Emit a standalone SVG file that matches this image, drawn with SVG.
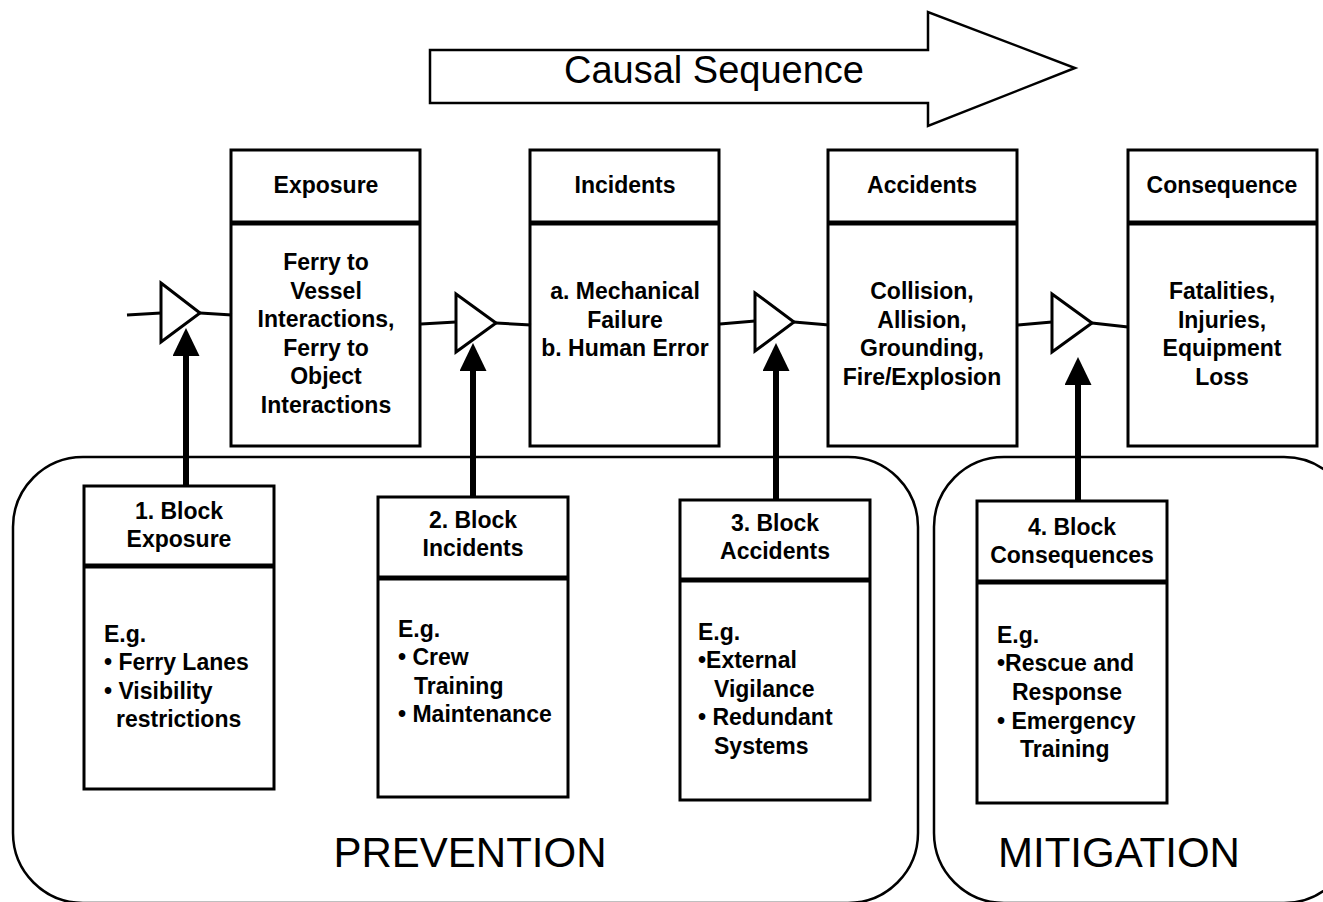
<svg xmlns="http://www.w3.org/2000/svg" width="1323" height="902" viewBox="0 0 1323 902">
<style>
.box{fill:#fff;stroke:#000;stroke-width:3}
.div{stroke:#000;stroke-width:5}
.tri{fill:#fff;stroke:#000;stroke-width:3;stroke-linejoin:miter}
.con{fill:none;stroke:#000;stroke-width:3}
.up{fill:none;stroke:#000;stroke-width:6}
.region{fill:none;stroke:#000;stroke-width:2.5}
.b{font-family:"Liberation Sans",Arial,sans-serif;font-weight:bold;font-size:23px;fill:#000}
.c{text-anchor:middle}
.big{font-family:"Liberation Sans",Arial,sans-serif;font-size:42px;fill:#000}
</style>
<defs>
<marker id="ah" markerUnits="userSpaceOnUse" markerWidth="30" markerHeight="28" refX="0" refY="13.5" orient="auto">
<path d="M0,0 L28,13.5 L0,27 z" fill="#000"/>
</marker>
</defs>
<rect x="0" y="0" width="1323" height="902" fill="#fff"/>

<g id="causal-sequence">
<path d="M430,50 H928 V12 L1075,68 L928,126 V103 H430 Z" fill="#fff" stroke="#000" stroke-width="2.5"/>
<text x="714" y="83" font-family="'Liberation Sans',Arial,sans-serif" font-size="38" text-anchor="middle">Causal Sequence</text>
</g>

<g id="prevention">
<rect class="region" x="13" y="457" width="905" height="446" rx="70" ry="70"/>
<text class="big" x="470" y="867" text-anchor="middle">PREVENTION</text>
</g>
<g id="mitigation">
<rect class="region" x="934" y="457" width="420" height="446" rx="70" ry="70"/>
<text class="big" x="1119" y="867" text-anchor="middle">MITIGATION</text>
</g>

<g id="exposure">
<rect class="box" x="231" y="150" width="189" height="296"/>
<line class="div" x1="231" y1="223" x2="420" y2="223"/>
<text class="b c" x="326" y="193">Exposure</text>
<text class="b c" x="326" y="270">Ferry to</text>
<text class="b c" x="326" y="298.5">Vessel</text>
<text class="b c" x="326" y="327">Interactions,</text>
<text class="b c" x="326" y="355.5">Ferry to</text>
<text class="b c" x="326" y="384">Object</text>
<text class="b c" x="326" y="412.5">Interactions</text>
</g>

<g id="incidents">
<rect class="box" x="530" y="150" width="189" height="296"/>
<line class="div" x1="530" y1="223" x2="719" y2="223"/>
<text class="b c" x="625" y="193">Incidents</text>
<text class="b c" x="625" y="299">a. Mechanical</text>
<text class="b c" x="625" y="327.5">Failure</text>
<text class="b c" x="625" y="356">b. Human Error</text>
</g>

<g id="accidents">
<rect class="box" x="828" y="150" width="189" height="296"/>
<line class="div" x1="828" y1="223" x2="1017" y2="223"/>
<text class="b c" x="922" y="193">Accidents</text>
<text class="b c" x="922" y="299">Collision,</text>
<text class="b c" x="922" y="327.5">Allision,</text>
<text class="b c" x="922" y="356">Grounding,</text>
<text class="b c" x="922" y="384.5">Fire/Explosion</text>
</g>

<g id="consequence">
<rect class="box" x="1128" y="150" width="189" height="296"/>
<line class="div" x1="1128" y1="223" x2="1317" y2="223"/>
<text class="b c" x="1222" y="193">Consequence</text>
<text class="b c" x="1222" y="299">Fatalities,</text>
<text class="b c" x="1222" y="327.5">Injuries,</text>
<text class="b c" x="1222" y="356">Equipment</text>
<text class="b c" x="1222" y="384.5">Loss</text>
</g>

<g id="gate1"><polygon class="tri" points="161,283 200,313 161,342"/></g>
<g id="gate2"><polygon class="tri" points="456,294 496,323 456,352"/></g>
<g id="gate3"><polygon class="tri" points="755,293 794,322 755,351"/></g>
<g id="gate4"><polygon class="tri" points="1052,294 1092,323 1052,352"/></g>

<g id="block1">
<rect class="box" x="84" y="486" width="190" height="303"/>
<line class="div" x1="84" y1="566" x2="274" y2="566"/>
<text class="b c" x="179" y="519">1. Block</text>
<text class="b c" x="179" y="547">Exposure</text>
<text class="b" x="104" y="642">E.g.</text>
<text class="b" x="104" y="670">• Ferry Lanes</text>
<text class="b" x="104" y="698.5">• Visibility</text>
<text class="b" x="116" y="727">restrictions</text>
</g>

<g id="block2">
<rect class="box" x="378" y="497" width="190" height="300"/>
<line class="div" x1="378" y1="578" x2="568" y2="578"/>
<text class="b c" x="473" y="528">2. Block</text>
<text class="b c" x="473" y="556">Incidents</text>
<text class="b" x="398" y="637">E.g.</text>
<text class="b" x="398" y="665">• Crew</text>
<text class="b" x="414" y="694">Training</text>
<text class="b" x="398" y="722">• Maintenance</text>
</g>

<g id="block3">
<rect class="box" x="680" y="500" width="190" height="300"/>
<line class="div" x1="680" y1="580" x2="870" y2="580"/>
<text class="b c" x="775" y="531">3. Block</text>
<text class="b c" x="775" y="559">Accidents</text>
<text class="b" x="698" y="640">E.g.</text>
<text class="b" x="698" y="668">•External</text>
<text class="b" x="714" y="697">Vigilance</text>
<text class="b" x="698" y="725">• Redundant</text>
<text class="b" x="714" y="754">Systems</text>
</g>

<g id="block4">
<rect class="box" x="977" y="501" width="190" height="302"/>
<line class="div" x1="977" y1="582" x2="1167" y2="582"/>
<text class="b c" x="1072" y="535">4. Block</text>
<text class="b c" x="1072" y="563">Consequences</text>
<text class="b" x="997" y="643">E.g.</text>
<text class="b" x="997" y="671">•Rescue and</text>
<text class="b" x="1012" y="700">Response</text>
<text class="b" x="997" y="729">• Emergency</text>
<text class="b" x="1020" y="757">Training</text>
</g>

<g id="connectors">
<line class="con" x1="127" y1="315" x2="161" y2="313"/>
<line class="con" x1="200" y1="313" x2="232" y2="315"/>
<line class="con" x1="421" y1="324" x2="456" y2="322"/>
<line class="con" x1="496" y1="323" x2="531" y2="325"/>
<line class="con" x1="720" y1="324" x2="755" y2="321"/>
<line class="con" x1="794" y1="322" x2="829" y2="325"/>
<line class="con" x1="1018" y1="325" x2="1052" y2="322"/>
<line class="con" x1="1092" y1="323" x2="1128" y2="327"/>
<line class="up" x1="186" y1="486" x2="186" y2="356" marker-end="url(#ah)"/>
<line class="up" x1="473" y1="497" x2="473" y2="371" marker-end="url(#ah)"/>
<line class="up" x1="776" y1="500" x2="776" y2="371" marker-end="url(#ah)"/>
<line class="up" x1="1078" y1="501" x2="1078" y2="385" marker-end="url(#ah)"/>
</g>
</svg>
